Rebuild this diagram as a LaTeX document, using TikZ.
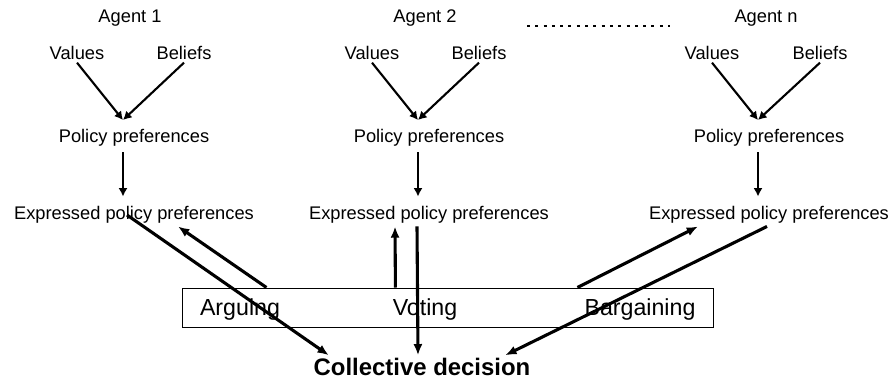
\documentclass[tikz,border=0pt]{standalone}
\usepackage{fontspec}
\setmainfont{Liberation Sans}
\usetikzlibrary{arrows.meta}
\tikzset{
    > = {Latex[length=8pt,width=6.5pt]}
}
\begin{document}
\begin{tikzpicture}[x=0.025cm, y=-0.025cm, line width=2.2pt]
        \tikzstyle{txt}=[inner sep=1pt, font=\fontsize{13}{15}\selectfont]
        \tikzstyle{big}=[inner sep=1pt, font=\fontsize{16.5}{19}\selectfont]
        \tikzstyle{thin}=[line width=1.5pt, -{Latex[length=6pt,width=6.5pt]}]
        \useasboundingbox (0,0) rectangle (893,381);
        \foreach \k/\cx/\vx/\bx/\mx in {1/130/77/184/123, 2/425/372/479/418, n/766/712/820/758}{
            \node[txt] (ag\k) at (\cx,18) {Agent \k};
            \node[txt] (val\k) at (\vx,53) {Values};
            \node[txt] (bel\k) at (\bx,53) {Beliefs};
            \node[txt] (pol\k) at (\mx+11,138) {Policy preferences};
            \node[txt] (exp\k) at (\mx+11,215) {Expressed policy preferences};
            \coordinate (m\k) at (\mx,120);
            \draw[thin] (val\k.south) -- (m\k);
            \draw[thin] (bel\k.south) -- (m\k);
            \draw[thin, shorten <=2pt, shorten >=5pt] (pol\k.south -| m\k) -- (exp\k.north -| m\k);
        }
        \coordinate (dl) at (527,26);
        \coordinate (dr) at (670,26);
        \draw[line width=2.1pt, dash pattern=on 2.1pt off 3.8pt] (dl) -- (dr);
        \node[draw, line width=.7pt, inner sep=0, minimum width=13.25cm, minimum height=.975cm] (box) at (448,307.5) {};
        \node[big] (arg) at (240,309) {Arguing};
        \node[big] (vot) at (425,309) {Voting};
        \node[big] (bar) at (640,309) {Bargaining};
        \node[inner sep=1pt, font=\bfseries\fontsize{17}{20}\selectfont] (coll) at (422,367) {Collective decision};
        \draw[->] ([shift={(-7,0)}]exp1.center) -- ([shift={(18,0)}]coll.north west);
        \draw[->] ([shift={(84,0)}]box.north west) -- ([shift={(44,0)}]exp1.south);
        \draw[->] ([shift={(213,0)}]box.north west) -- ([shift={(-34,0)}]exp2.south);
        \draw[->] ([shift={(-12,0)}]exp2.south) -- ([shift={(-4,0)}]coll.north);
        \draw[->] ([shift={(395,0)}]box.north west) -- ([shift={(-71,0)}]expn.south);
        \draw[->] ([shift={(-2,0)}]expn.south) -- ([shift={(-28,0)}]coll.north east);
    \end{tikzpicture}
\end{document}
